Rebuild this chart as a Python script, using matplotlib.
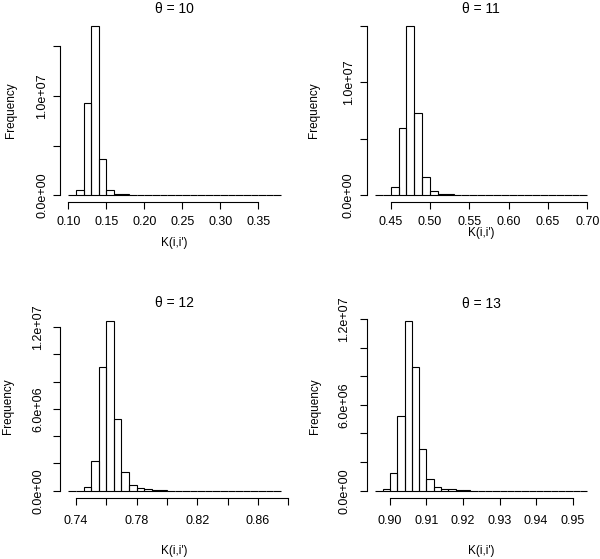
import numpy as np
import matplotlib
matplotlib.use("Agg")
import matplotlib.pyplot as plt

plt.rcParams['font.family'] = ['Liberation Sans', 'DejaVu Sans']

# histogram counts (per bin), bins given by start / width
titles = ["\u03b8 = 10", "\u03b8 = 11", "\u03b8 = 12", "\u03b8 = 13"]

start10, width10 = 0.10, 0.01
counts10 = [0, 0.47e6, 9.26e6, 17.07e6, 3.6e6, 0.47e6, 0.15e6, 0.08e6, 0.03e6,
            0.015e6, 0.008e6, 0.005e6, 0.003e6, 0.002e6, 0.001e6, 0, 0, 0, 0,
            0, 0, 0, 0, 0, 0, 0, 0, 0]

start11, width11 = 0.43, 0.01
counts11 = [0, 0, 0.71e6, 5.92e6, 15.0e6, 7.25e6, 1.57e6, 0.33e6, 0.13e6,
            0.08e6, 0.03e6, 0.012e6, 0.006e6, 0.003e6, 0.002e6, 0.001e6, 0, 0,
            0, 0, 0, 0, 0, 0, 0, 0, 0]

start12, width12 = 0.735, 0.005
counts12 = [0, 0, 0.24e6, 2.15e6, 9.05e6, 12.42e6, 5.28e6, 1.37e6, 0.39e6,
            0.17e6, 0.1e6, 0.05e6, 0.02e6, 0.01e6, 0.005e6, 0.003e6, 0.002e6,
            0.001e6, 0, 0, 0, 0, 0, 0, 0, 0, 0, 0]

start13, width13 = 0.896, 0.002
counts13 = [0, 0.09e6, 1.21e6, 5.2e6, 11.84e6, 8.62e6, 2.89e6, 0.84e6, 0.23e6,
            0.14e6, 0.09e6, 0.05e6, 0.02e6, 0.01e6, 0.005e6, 0.003e6, 0.002e6,
            0.001e6, 0, 0, 0, 0, 0, 0, 0, 0, 0, 0, 0]

xticks = [np.arange(0.10, 0.351, 0.05), np.arange(0.45, 0.701, 0.05),
          np.arange(0.74, 0.881, 0.02), np.arange(0.90, 0.951, 0.01)]
xticklabels = [["0.10", "0.15", "0.20", "0.25", "0.30", "0.35"],
               ["0.45", "0.50", "0.55", "0.60", "0.65", "0.70"],
               ["0.74", "", "0.78", "", "0.82", "", "0.86", ""],
               ["0.90", "0.91", "0.92", "0.93", "0.94", "0.95"]]
yticks = [[0, 5e6, 1e7, 1.5e7], [0, 5e6, 1e7, 1.5e7],
          [0, 2e6, 4e6, 6e6, 8e6, 10e6, 12e6], [0, 2e6, 4e6, 6e6, 8e6, 10e6, 12e6]]
yticklabels = [["0.0e+00", "", "1.0e+07", ""], ["0.0e+00", "", "1.0e+07", ""],
               ["0.0e+00", "", "", "6.0e+06", "", "", "1.2e+07"],
               ["0.0e+00", "", "", "6.0e+06", "", "", "1.2e+07"]]

panels = [(start10, width10, counts10), (start11, width11, counts11),
          (start12, width12, counts12), (start13, width13, counts13)]

W, H = 600, 559
# plot regions in pixels: left, right, top, bottom
boxes = [(59.8, 289.6, 19.2, 201.8), (366.5, 595.8, 19.2, 201.8),
         (59.9, 289.2, 314.5, 497.5), (366.9, 595.6, 314.5, 497.5)]
# text positions in pixels: title y, xlabel y, ylabel x
text_pos = [(9, 243, 10.5), (9, 233, 314), (303, 551, 8.5), (304, 551, 315.5)]
# tick label pads (x, y) in points
pads = [(5, 3), (5, 3), (7.2, 6), (7.2, 6.5)]

fig = plt.figure(figsize=(W / 100, H / 100), dpi=100)

for i, (start, bw, counts) in enumerate(panels):
    l, r, t, b = boxes[i]
    ax = fig.add_axes([l / W, 1 - b / H, (r - l) / W, (b - t) / H])
    counts = np.array(counts)
    edges = start + bw * np.arange(len(counts) + 1)
    ax.bar(edges[:-1], counts, width=bw, align='edge', fill=False,
           edgecolor='black', linewidth=0.8)

    # R style 4% padding
    xr = edges[-1] - edges[0]
    ax.set_xlim(edges[0] - 0.04 * xr, edges[-1] + 0.04 * xr)
    ax.set_ylim(-0.04 * counts.max(), 1.04 * counts.max())

    ax.set_xticks(xticks[i])
    ax.set_xticklabels(xticklabels[i])
    ax.set_yticks(yticks[i])
    ax.set_yticklabels(yticklabels[i])
    for lab in ax.get_yticklabels():
        lab.set_rotation(90)
        lab.set_va('center')

    for s in ['top', 'right']:
        ax.spines[s].set_visible(False)
    ax.spines['bottom'].set_bounds(xticks[i][0], xticks[i][-1])
    ax.spines['left'].set_bounds(yticks[i][0], yticks[i][-1])
    for s in ['bottom', 'left']:
        ax.spines[s].set_linewidth(0.8)
    ax.tick_params(direction='out', length=5.3, width=0.8, labelsize=9)
    ax.tick_params(axis='x', pad=pads[i][0])
    ax.tick_params(axis='y', pad=pads[i][1])
    ax.patch.set_visible(False)

    ty, xly, ylx = text_pos[i]
    cx = (l + r) / 2
    cy = (t + b) / 2
    fig.text(cx / W, 1 - ty / H, titles[i], ha='center', va='center', fontsize=10)
    fig.text(cx / W, 1 - xly / H, "K(i,i')", ha='center', va='center', fontsize=8.5)
    fig.text(ylx / W, 1 - cy / H, "Frequency", ha='center', va='center',
             rotation=90, fontsize=8.5)

fig.savefig("out.png", dpi=100)
